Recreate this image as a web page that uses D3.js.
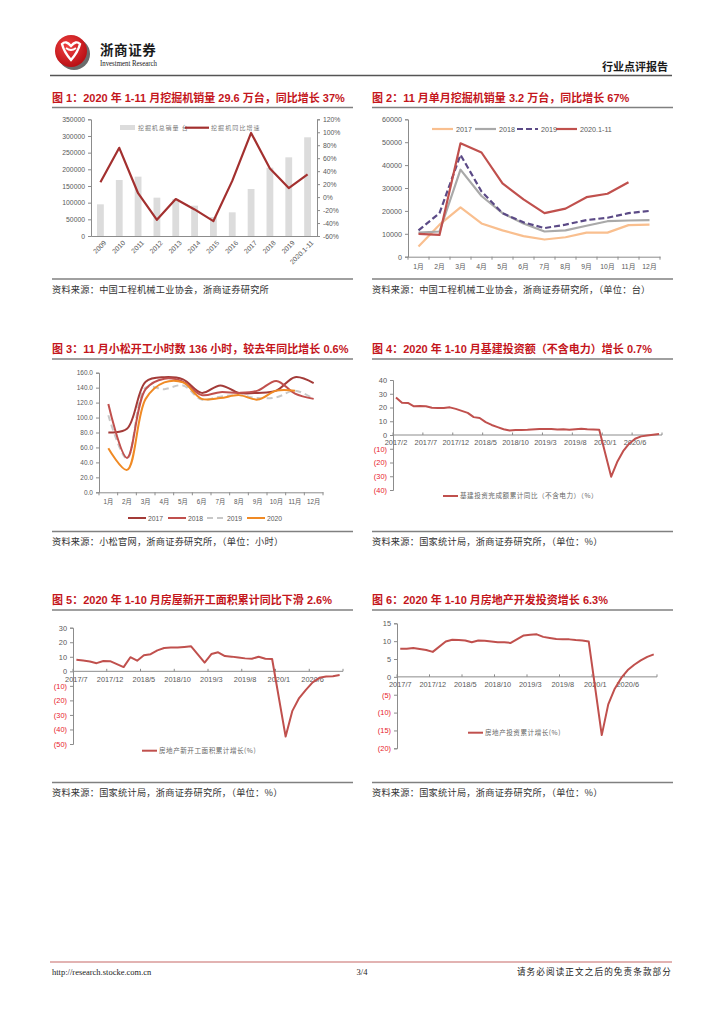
<!DOCTYPE html>
<html><head><meta charset="utf-8">
<script src="https://cdn.jsdelivr.net/npm/d3@7"></script>
<style>body{margin:0;background:#fff}svg{display:block}</style>
</head><body>
<svg id="page" width="724" height="1024"></svg>
<script>
// ---------------- DATA ----------------
// Chart 1
const c1Years = ["2009","2010","2011","2012","2013","2014","2015","2016","2017","2018","2019","2020.1-11"];
const c1Sales = [95000,168000,178000,115000,111000,91000,57000,71000,141000,205000,236000,296000];
const c1Growth = [23,76,6,-35,-3,-19,-37,25,99,44,14,35];
const c1LeftTicks = [0,50000,100000,150000,200000,250000,300000,350000];
const c1RightTicks = [-60,-40,-20,0,20,40,60,80,100,120];
// Chart 2
const c2Months = ["1月","2月","3月","4月","5月","6月","7月","8月","9月","10月","11月","12月"];
const c2Series = ["2017","2018","2019","2020.1-11"];
const c2_2017 = [4500,14000,21500,14500,11500,9000,7500,8500,10500,10500,13800,14000];
const c2_2018 = [10500,11000,38000,26500,19000,14500,11000,11500,13500,15500,15800,16000];
const c2_2019 = [11500,19000,44500,28500,19000,15000,12500,14000,16000,17000,19000,20000];
const c2_2020 = [10000,9500,49500,45500,32000,25000,19000,21000,26000,27500,32500];
const c2Ticks = [0,10000,20000,30000,40000,50000,60000];
// Chart 3
const c3Months = ["1月","2月","3月","4月","5月","6月","7月","8月","9月","10月","11月","12月"];
const c3Series = ["2017","2018","2019","2020"];
const c3_2017 = [80,85,148,154,151,133,143,133,133,136,154,146];
const c3_2018 = [118,46,138,152,148,130,134,133,136,149,132,125];
const c3_2019 = [103,45,140,138,143,124,128,130,126,127,136,125];
const c3_2020 = [59,30,125,147,147,125,126,130,124,136,136];
const c3Ticks = [0,20,40,60,80,100,120,140,160];
// Chart 4
const c4Months = "2017/2 2017/3 2017/4 2017/5 2017/6 2017/7 2017/8 2017/9 2017/10 2017/11 2017/12 2018/1 2018/2 2018/3 2018/4 2018/5 2018/6 2018/7 2018/8 2018/9 2018/10 2018/11 2018/12 2019/1 2019/2 2019/3 2019/4 2019/5 2019/6 2019/7 2019/8 2019/9 2019/10 2019/11 2019/12 2020/1 2020/2 2020/3 2020/4 2020/5 2020/6 2020/7 2020/8 2020/9 2020/10".split(" ");
const c4Values = [27.3,23.5,23.3,20.9,21.1,20.9,19.8,19.6,19.6,20.1,19.0,null,16.1,13.0,12.4,9.4,7.3,5.7,4.2,3.3,3.7,3.7,3.8,null,4.3,4.4,4.4,4.0,4.1,3.8,4.2,4.5,4.2,4.0,3.8,null,-30.3,-19.7,-11.8,-6.3,-2.7,-1.0,-0.3,0.2,0.7];
const c4Ticks = [-40,-30,-20,-10,0,10,20,30,40];
// Chart 5
const c5Months = "2017/7 2017/8 2017/9 2017/10 2017/11 2017/12 2018/1 2018/2 2018/3 2018/4 2018/5 2018/6 2018/7 2018/8 2018/9 2018/10 2018/11 2018/12 2019/1 2019/2 2019/3 2019/4 2019/5 2019/6 2019/7 2019/8 2019/9 2019/10 2019/11 2019/12 2020/1 2020/2 2020/3 2020/4 2020/5 2020/6 2020/7 2020/8 2020/9 2020/10".split(" ");
const c5Values = [7.9,7.4,6.8,5.6,7.1,7.0,null,2.9,9.7,7.3,11.0,11.8,14.4,16.0,16.4,16.3,16.8,17.2,null,6.0,11.9,13.1,10.5,10.1,9.5,8.9,8.6,10.0,8.6,8.5,null,-44.9,-27.2,-18.4,-12.8,-7.6,-4.5,-3.6,-3.4,-2.6];
const c5Ticks = [-50,-40,-30,-20,-10,0,10,20,30];
// Chart 6
const c6Months = c5Months;
const c6Values = [7.9,7.9,8.1,7.8,7.5,7.0,null,9.9,10.4,10.3,10.2,9.7,10.2,10.1,9.9,9.7,9.7,9.5,null,11.6,11.8,11.9,11.2,10.9,10.6,10.5,10.5,10.3,10.2,9.9,null,-16.3,-7.7,-3.3,-0.3,1.9,3.4,4.6,5.6,6.3];
const c6Ticks = [-20,-15,-10,-5,0,5,10,15];

// ---------------- STYLE ----------------
const LAT = "'Liberation Sans', Arial, 'Noto Sans CJK SC', sans-serif";
const CJK = "'Noto Sans CJK SC', sans-serif";
const GRAY_TXT = "#595959";
const AXIS = "#8c8c8c";
const TITLE_RED = "#c4161c";

const svg = d3.select("#page");
svg.append("rect").attr("width",724).attr("height",1024).attr("fill","#fff");

// ---------------- HEADER ----------------
const logo = svg.append("g");
logo.append("circle").attr("cx",74).attr("cy",54).attr("r",16).attr("fill","#6b6b6b");
const grad = svg.append("defs").append("radialGradient").attr("id","lg").attr("cx","40%").attr("cy","35%").attr("r","70%");
grad.append("stop").attr("offset","0%").attr("stop-color","#f04040");
grad.append("stop").attr("offset","100%").attr("stop-color","#b50d12");
logo.append("circle").attr("cx",71).attr("cy",51).attr("r",16).attr("fill","url(#lg)");
logo.append("path").attr("d","M62,44 Q66,40 71,46 Q76,40 80,44 Q78,52 71,60 Q64,52 62,44 Z").attr("fill","none").attr("stroke","#fff").attr("stroke-width",2.4);
logo.append("path").attr("d","M66,48 Q71,52 76,48").attr("fill","none").attr("stroke","#fff").attr("stroke-width",1.8);
svg.append("text").attr("x",100).attr("y",55).attr("font-family",CJK).attr("font-weight","bold")
  .attr("font-size",13.5).attr("letter-spacing",0.6).attr("fill","#1a1a1a").text("浙商证券");
svg.append("text").attr("x",100).attr("y",66).attr("font-family","'Liberation Serif', serif")
  .attr("font-size",8.5).attr("textLength",57).attr("lengthAdjust","spacingAndGlyphs").attr("fill","#1a1a1a").text("Investment Research");
svg.append("text").attr("x",668).attr("y",71).attr("text-anchor","end").attr("font-family",CJK).attr("font-weight","bold")
  .attr("font-size",11).attr("fill","#1a1a1a").text("行业点评报告");
svg.append("line").attr("x1",50).attr("x2",672).attr("y1",75.5).attr("y2",75.5).attr("stroke","#555").attr("stroke-width",1.5);

// ---------------- FOOTER ----------------
svg.append("line").attr("x1",50).attr("x2",672).attr("y1",962).attr("y2",962).attr("stroke","#d99a98").attr("stroke-width",1.5);
svg.append("text").attr("x",52).attr("y",975).attr("font-family","'Liberation Serif', serif").attr("font-size",8.5).attr("fill","#222").text("http://research.stocke.com.cn");
svg.append("text").attr("x",362).attr("y",975).attr("text-anchor","middle").attr("font-family","'Liberation Serif', serif").attr("font-size",8.5).attr("fill","#222").text("3/4");
svg.append("text").attr("x",672).attr("y",975).attr("text-anchor","end").attr("font-family",CJK).attr("font-size",8.6).attr("letter-spacing",1.1).attr("fill","#222").text("请务必阅读正文之后的免责条款部分");

// ---------------- PANEL HELPERS ----------------
function panel(x0, x1, titleY, ruleY, srcRuleY, titleText, srcText) {
  svg.append("text").attr("x",x0).attr("y",titleY).attr("font-family",LAT).attr("font-weight","bold")
    .attr("font-size",11).attr("fill",TITLE_RED).text(titleText);
  svg.append("line").attr("x1",x0).attr("x2",x1).attr("y1",ruleY).attr("y2",ruleY).attr("stroke","#808080").attr("stroke-width",1.4);
  svg.append("line").attr("x1",x0).attr("x2",x1).attr("y1",srcRuleY).attr("y2",srcRuleY).attr("stroke","#808080").attr("stroke-width",1.4);
  svg.append("text").attr("x",x0).attr("y",srcRuleY+13.5).attr("font-family",CJK).attr("font-size",9.2)
    .attr("letter-spacing",0.25).attr("fill","#333").text(srcText);
}
function styleAxis(g, fs) {
  g.select(".domain").attr("stroke",AXIS).attr("stroke-width",1);
  g.selectAll(".tick line").attr("stroke",AXIS);
  g.selectAll(".tick text").attr("font-family",LAT).attr("font-size",fs||7).attr("fill",GRAY_TXT);
}
function catTicks(g, xs, y, len) {
  const b = xs.domain().map(d => xs(d)).concat([xs.range()[1]]);
  g.selectAll(null).data(b).enter().append("line")
    .attr("x1",d=>d).attr("x2",d=>d).attr("y1",y).attr("y2",y+len).attr("stroke",AXIS);
}

panel(52,353,102,107.5,279,"图 1：2020 年 1-11 月挖掘机销量 29.6 万台，同比增长 37%","资料来源：中国工程机械工业协会，浙商证券研究所");
panel(372,673,102,107.5,279,"图 2：11 月单月挖掘机销量 3.2 万台，同比增长 67%","资料来源：中国工程机械工业协会，浙商证券研究所，（单位：台）");
panel(52,353,353,359,531.5,"图 3：11 月小松开工小时数 136 小时，较去年同比增长 0.6%","资料来源：小松官网，浙商证券研究所，（单位：小时）");
panel(372,673,353,359,531.5,"图 4：2020 年 1-10 月基建投资额（不含电力）增长 0.7%","资料来源：国家统计局，浙商证券研究所，（单位：%）");
panel(52,353,604,610,782.5,"图 5：2020 年 1-10 月房屋新开工面积累计同比下滑 2.6%","资料来源：国家统计局，浙商证券研究所，（单位：%）");
panel(372,673,604,610,782.5,"图 6：2020 年 1-10 月房地产开发投资增长 6.3%","资料来源：国家统计局，浙商证券研究所，（单位：%）");

// ---------------- CHART 1 ----------------
(function(){
  const g = svg.append("g");
  const x = d3.scaleBand().domain(c1Years).range([91,317]);
  const yL = d3.scaleLinear().domain([0,350000]).range([236,119.3]);
  const yR = d3.scaleLinear().domain([-60,120]).range([236,119.3]);
  const bw = x.bandwidth()*0.36;
  g.selectAll("rect.bar").data(c1Years).enter().append("rect")
    .attr("x",d=>x(d)+x.bandwidth()/2-bw/2).attr("width",bw)
    .attr("y",(d,i)=>yL(c1Sales[i])).attr("height",(d,i)=>yL(0)-yL(c1Sales[i])).attr("fill","#dcdcdc");
  const ax = g.append("g").attr("transform","translate(91,0)").call(d3.axisLeft(yL).tickValues(c1LeftTicks).tickSize(3).tickPadding(3).tickFormat(d=>String(d)));
  styleAxis(ax,6.8);
  const axr = g.append("g").attr("transform","translate(317,0)").call(d3.axisRight(yR).tickValues(c1RightTicks).tickSize(3).tickPadding(3).tickFormat(d=>d+"%"));
  styleAxis(axr,6.8);
  const axb = g.append("g").attr("transform","translate(0,236)").call(d3.axisBottom(x).tickSize(0).tickFormat(""));
  styleAxis(axb);
  g.selectAll("text.xl").data(c1Years).enter().append("text")
    .attr("transform",d=>`translate(${x(d)+x.bandwidth()/2+3},240) rotate(-45)`)
    .attr("text-anchor","end").attr("dy","0.7em").attr("font-family",LAT).attr("font-size",6.8).attr("fill",GRAY_TXT).text(d=>d);
  const line = d3.line().x((d,i)=>x(c1Years[i])+x.bandwidth()/2).y(d=>yR(d));
  g.append("path").attr("d",line(c1Growth)).attr("fill","none").attr("stroke","#a3302f").attr("stroke-width",2.2).attr("stroke-linejoin","round");
  // legend
  g.append("rect").attr("x",120).attr("y",125).attr("width",15).attr("height",5).attr("fill","#dcdcdc");
  g.append("text").attr("x",138).attr("y",130).attr("font-family",CJK).attr("font-size",6).attr("letter-spacing",0.9).attr("fill","#777").text("挖掘机总销量 台");
  g.append("line").attr("x1",185).attr("x2",209).attr("y1",127.7).attr("y2",127.7).attr("stroke","#a3302f").attr("stroke-width",2.2);
  g.append("text").attr("x",211).attr("y",130).attr("font-family",CJK).attr("font-size",6).attr("letter-spacing",1.1).attr("fill","#777").text("挖掘机同比增速");
})();

// ---------------- CHART 2 ----------------
(function(){
  const g = svg.append("g");
  const x = d3.scaleBand().domain(c2Months).range([408,660]);
  const y = d3.scaleLinear().domain([0,60000]).range([256.7,119.3]);
  const ax = g.append("g").attr("transform","translate(408,0)").call(d3.axisLeft(y).tickValues(c2Ticks).tickSize(3).tickPadding(3).tickFormat(d=>String(d)));
  styleAxis(ax,7.2);
  const axb = g.append("g").attr("transform","translate(0,256.7)").call(d3.axisBottom(x).tickSize(0).tickPadding(7));
  styleAxis(axb,6.8);
  catTicks(g,x,256.7,3);
  const cx = i => x(c2Months[i]) + x.bandwidth()/2;
  const line = d3.line().x((d,i)=>cx(i)).y(d=>y(d));
  const series = [
    {name:c2Series[0], v:c2_2017, c:"#f9bf8f", dash:null},
    {name:c2Series[1], v:c2_2018, c:"#a9a9a9", dash:null},
    {name:c2Series[2], v:c2_2019, c:"#5b4a86", dash:"6,3"},
    {name:c2Series[3], v:c2_2020, c:"#c0504d", dash:null}];
  series.forEach(s => {
    g.append("path").attr("d",line(s.v)).attr("fill","none").attr("stroke",s.c).attr("stroke-width",2.2)
      .attr("stroke-dasharray",s.dash).attr("stroke-linejoin","round");
  });
  const lx = [432,475,517,556];
  series.forEach((s,i) => {
    g.append("line").attr("x1",lx[i]).attr("x2",lx[i]+21).attr("y1",129).attr("y2",129).attr("stroke",s.c).attr("stroke-width",2.2).attr("stroke-dasharray",s.dash);
    g.append("text").attr("x",lx[i]+24).attr("y",131.6).attr("font-family",LAT).attr("font-size",7.2).attr("fill",GRAY_TXT).text(s.name);
  });
})();

// ---------------- CHART 3 ----------------
(function(){
  const g = svg.append("g");
  const x = d3.scaleBand().domain(c3Months).range([99,323]);
  const y = d3.scaleLinear().domain([0,160]).range([492.3,372.7]);
  const ax = g.append("g").attr("transform","translate(99,0)").call(d3.axisLeft(y).tickValues(c3Ticks).tickSize(3).tickPadding(3).tickFormat(d3.format(".1f")));
  styleAxis(ax,6.5);
  const axb = g.append("g").attr("transform","translate(0,492.3)").call(d3.axisBottom(x).tickSize(0).tickPadding(7));
  styleAxis(axb,6.3);
  catTicks(g,x,492.3,3);
  const cx = i => x(c3Months[i]) + x.bandwidth()/2;
  const line = d3.line().x((d,i)=>cx(i)).y(d=>y(d)).curve(d3.curveCatmullRom.alpha(0.5));
  const series = [
    {name:c3Series[0], v:c3_2017, c:"#a33b38", dash:null},
    {name:c3Series[1], v:c3_2018, c:"#c0504d", dash:null},
    {name:c3Series[2], v:c3_2019, c:"#c8c8c8", dash:"6,4"},
    {name:c3Series[3], v:c3_2020, c:"#f08a24", dash:null}];
  [2,0,1,3].forEach(k => {
    const s = series[k];
    g.append("path").attr("d",line(s.v)).attr("fill","none").attr("stroke",s.c).attr("stroke-width",2)
      .attr("stroke-dasharray",s.dash);
  });
  const lx = [128,168,207,247];
  series.forEach((s,i) => {
    g.append("line").attr("x1",lx[i]).attr("x2",lx[i]+18).attr("y1",518).attr("y2",518).attr("stroke",s.c).attr("stroke-width",2).attr("stroke-dasharray",s.dash);
    g.append("text").attr("x",lx[i]+20).attr("y",520.5).attr("font-family",LAT).attr("font-size",6.8).attr("fill",GRAY_TXT).text(s.name);
  });
})();

// ---------------- CHARTS 4-6 ----------------
function tsChart(o) {
  const g = svg.append("g");
  const x = d3.scaleBand().domain(o.cats).range([o.x0,o.x1]);
  const y = d3.scaleLinear().domain(o.dom).range([o.yBot,o.yTop]);
  const ax = g.append("g").attr("transform",`translate(${o.x0},0)`)
    .call(d3.axisLeft(y).tickValues(o.ticks).tickSize(3).tickPadding(3).tickFormat(d=>d<0?`(${-d})`:String(d)));
  styleAxis(ax,7.4);
  ax.selectAll(".tick text").attr("fill",d=>d<0?"#e8202a":GRAY_TXT);
  const zy = y(0);
  g.append("line").attr("x1",o.x0).attr("x2",o.x1).attr("y1",zy).attr("y2",zy).attr("stroke",AXIS);
  const labIdx = o.cats.map((d,i)=>i).filter(i=>i%5===0);
  g.selectAll("line.tk").data(labIdx.concat([o.cats.length])).enter().append("line")
    .attr("x1",i=> i<o.cats.length ? x(o.cats[i]) : o.x1).attr("x2",i=> i<o.cats.length ? x(o.cats[i]) : o.x1)
    .attr("y1",zy-2.5).attr("y2",zy).attr("stroke",AXIS);
  g.selectAll("text.xl").data(labIdx).enter().append("text")
    .attr("x",i=>x(o.cats[i])+x.bandwidth()/2).attr("y",zy+o.labelDy).attr("text-anchor","middle")
    .attr("font-family",LAT).attr("font-size",7.4).attr("fill",GRAY_TXT).text(i=>o.cats[i]);
  const pts = o.cats.map((c,i)=>({c, v:o.vals[i]})).filter(d=>d.v!==null);
  const line = d3.line().x(d=>x(d.c)+x.bandwidth()/2).y(d=>y(d.v));
  g.append("path").attr("d",line(pts)).attr("fill","none").attr("stroke","#c0504d").attr("stroke-width",2).attr("stroke-linejoin","round");
  g.append("line").attr("x1",o.lx).attr("x2",o.lx+15).attr("y1",o.ly).attr("y2",o.ly).attr("stroke","#c0504d").attr("stroke-width",2);
  g.append("text").attr("x",o.lx+17).attr("y",o.ly+2.3).attr("font-family",CJK).attr("font-size",6.6).attr("letter-spacing",0.5).attr("fill","#666").text(o.legend);
}
tsChart({cats:c4Months, vals:c4Values, x0:393, x1:662, yTop:380, yBot:490, dom:[-40,40], ticks:c4Ticks, labelDy:9.5, lx:443, ly:496, legend:"基建投资完成额累计同比（不含电力）（%）"});
tsChart({cats:c5Months, vals:c5Values, x0:73, x1:343, yTop:627.7, yBot:744, dom:[-50,30], ticks:c5Ticks, labelDy:10.5, lx:142, ly:750.7, legend:"房地产新开工面积累计增长(%)"});
tsChart({cats:c6Months, vals:c6Values, x0:397, x1:657, yTop:623.3, yBot:748.3, dom:[-20,15], ticks:c6Ticks, labelDy:10.5, lx:468, ly:732.7, legend:"房地产投资累计增长(%)"});
</script>
</body></html>
